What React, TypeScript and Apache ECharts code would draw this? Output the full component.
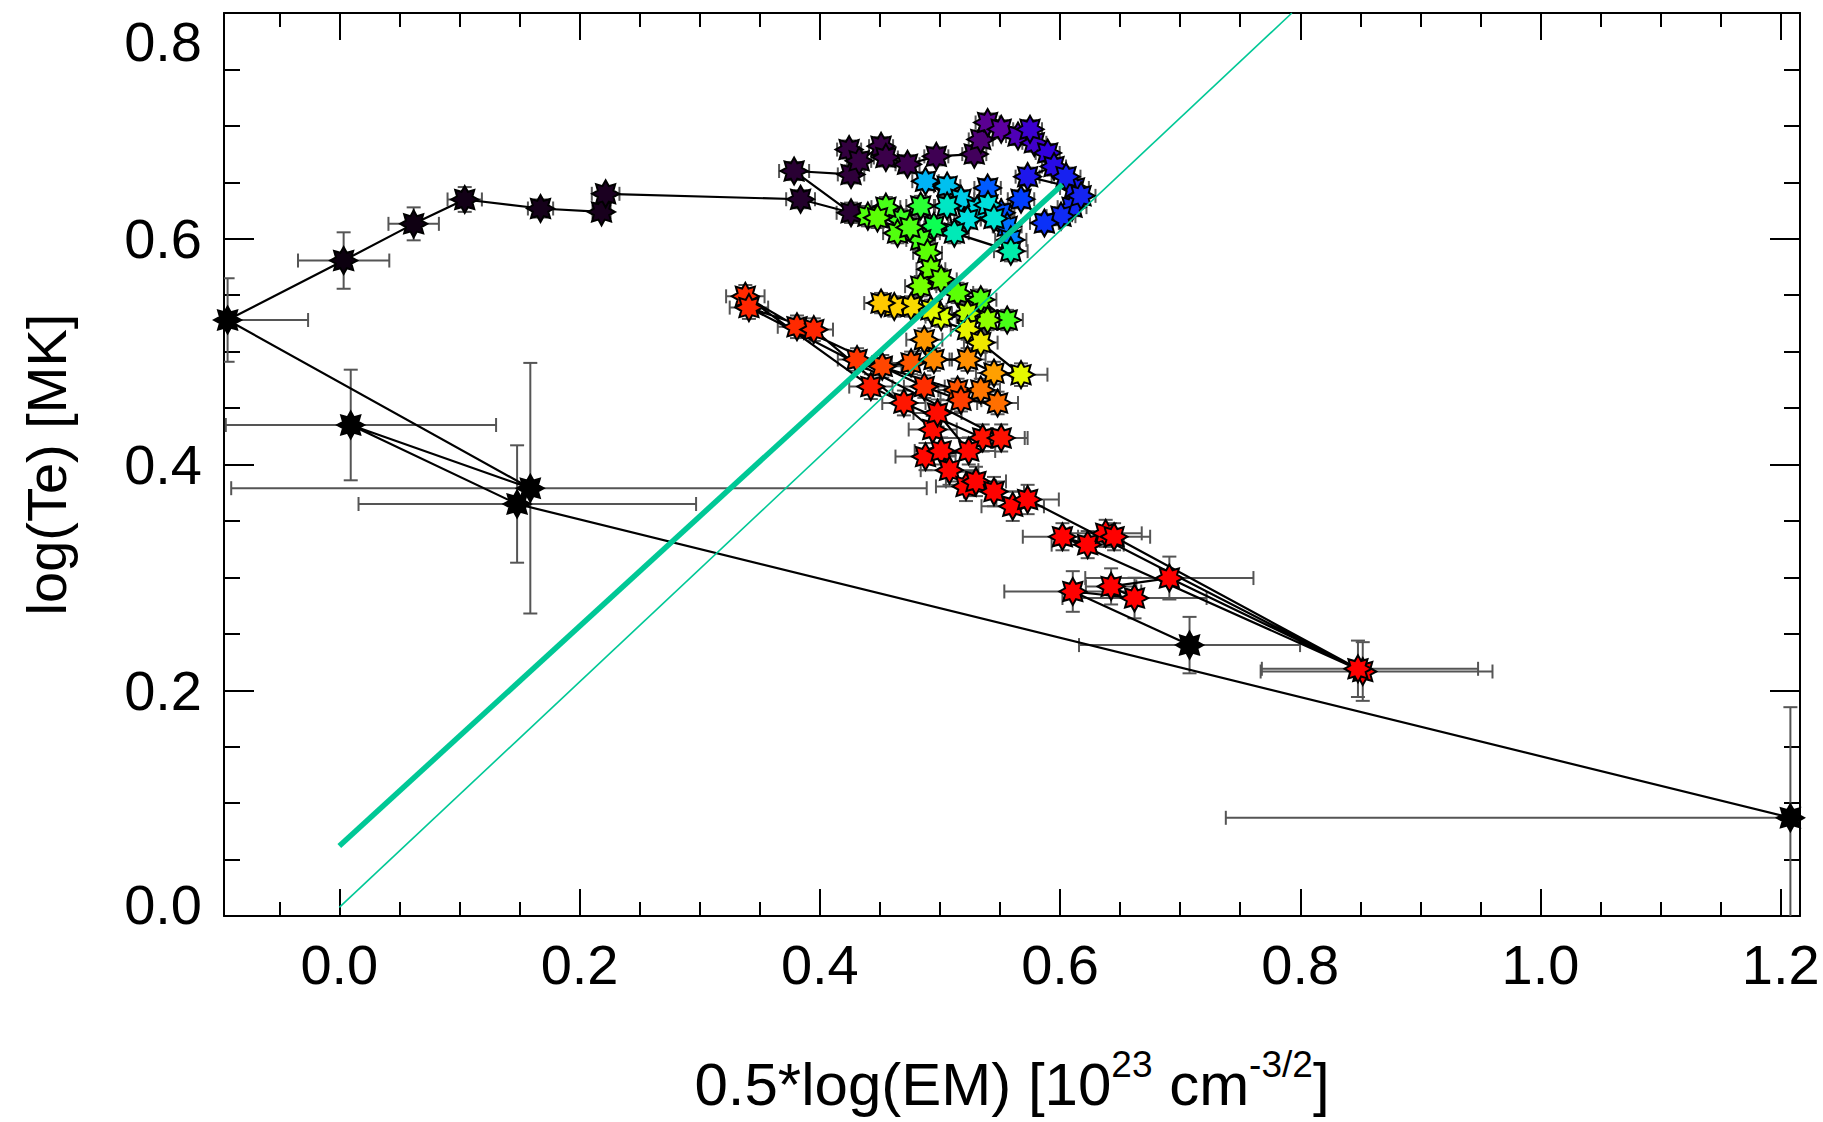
import React, { useEffect, useRef } from "react";
import * as echarts from "echarts";

// ---------------- data (time ordered trajectory) ----------------
const xs = [
  1.208, 0.148, 0.0095, 0.159, -0.093, 0.0036, 0.0619, 0.1044, 0.1675, 0.2183,
  0.2217, 0.384, 0.426, 0.3786, 0.426, 0.4244, 0.4328, 0.451, 0.455, 0.473,
  0.497, 0.5286, 0.534, 0.5397, 0.551, 0.565, 0.5786, 0.575, 0.5897, 0.595,
  0.573, 0.612, 0.605, 0.61, 0.6175, 0.6008, 0.587, 0.5675, 0.551, 0.5397,
  0.556, 0.559, 0.488, 0.506, 0.5175, 0.531, 0.523, 0.54, 0.545, 0.506,
  0.512, 0.559, 0.495, 0.484, 0.4675, 0.455, 0.44, 0.448, 0.4647, 0.484,
  0.475, 0.4897, 0.4925, 0.484, 0.501, 0.5147, 0.534, 0.556, 0.5397, 0.523,
  0.501, 0.4925, 0.476, 0.462, 0.451, 0.523, 0.534, 0.5675, 0.545, 0.523,
  0.495, 0.487, 0.476, 0.452, 0.431, 0.5147, 0.534, 0.548, 0.5175, 0.487,
  0.381, 0.338, 0.4425, 0.47, 0.5356, 0.551, 0.341, 0.395, 0.494, 0.498,
  0.524, 0.488, 0.501, 0.508, 0.5217, 0.53, 0.545, 0.5606, 0.573, 0.852,
  0.602, 0.623, 0.638, 0.645, 0.848, 0.691, 0.6425, 0.662, 0.6106, 0.7078,
];
const ys = [
  0.087, 0.365, 0.435, 0.379, 0.528, 0.5807, 0.6132, 0.6348, 0.6268, 0.6238,
  0.6398, 0.635, 0.623, 0.66, 0.657, 0.679, 0.669, 0.682, 0.672, 0.666,
  0.673, 0.675, 0.688, 0.703, 0.697, 0.691, 0.685, 0.697, 0.676, 0.664,
  0.655, 0.645, 0.655, 0.628, 0.638, 0.62, 0.614, 0.635, 0.623, 0.645,
  0.611, 0.599, 0.651, 0.6466, 0.635, 0.626, 0.617, 0.63, 0.618, 0.629,
  0.605, 0.589, 0.611, 0.629, 0.617, 0.628, 0.62, 0.6185, 0.605, 0.599,
  0.61, 0.5875, 0.573, 0.558, 0.564, 0.552, 0.546, 0.528, 0.528, 0.534,
  0.531, 0.537, 0.54, 0.54, 0.543, 0.5195, 0.508, 0.4796, 0.481, 0.493,
  0.493, 0.5106, 0.49, 0.487, 0.493, 0.466, 0.466, 0.4545, 0.457, 0.469,
  0.522, 0.549, 0.469, 0.4545, 0.4235, 0.4235, 0.539, 0.5195, 0.431, 0.4456,
  0.412, 0.407, 0.412, 0.395, 0.3806, 0.385, 0.376, 0.363, 0.369, 0.2166,
  0.336, 0.329, 0.339, 0.336, 0.219, 0.2994, 0.292, 0.2817, 0.2875, 0.24,
];
const xErrLo = [
  0.47, 0.132, 0.104, 0.249, 0.07, 0.038, 0.021, 0.0143, 0.0105, 0.0075,
  0.0115, 0.012, 0.012, 0.0125, 0.011, 0.01, 0.01, 0.01, 0.01, 0.01,
  0.01, 0.01, 0.01, 0.01, 0.01, 0.01, 0.01, 0.01, 0.01, 0.01,
  0.01, 0.012, 0.012, 0.012, 0.012, 0.012, 0.012, 0.011, 0.011, 0.011,
  0.012, 0.013, 0.011, 0.011, 0.011, 0.011, 0.011, 0.011, 0.011, 0.011,
  0.012, 0.014, 0.012, 0.012, 0.012, 0.012, 0.012, 0.012, 0.012, 0.012,
  0.012, 0.012, 0.012, 0.013, 0.013, 0.013, 0.013, 0.013, 0.013, 0.013,
  0.013, 0.013, 0.014, 0.014, 0.014, 0.014, 0.014, 0.022, 0.015, 0.015,
  0.015, 0.015, 0.016, 0.016, 0.016, 0.016, 0.016, 0.017, 0.017, 0.017,
  0.016, 0.016, 0.018, 0.018, 0.035, 0.022, 0.016, 0.016, 0.02, 0.02,
  0.022, 0.025, 0.022, 0.024, 0.025, 0.025, 0.025, 0.026, 0.026, 0.085,
  0.033, 0.03, 0.03, 0.03, 0.08, 0.07, 0.021, 0.06, 0.057, 0.092,
];
const xErrHi = [
  0.05, 0.149, 0.121, 0.33, 0.067, 0.038, 0.021, 0.0143, 0.0105, 0.0075,
  0.0115, 0.012, 0.012, 0.0125, 0.011, 0.01, 0.01, 0.01, 0.01, 0.01,
  0.01, 0.01, 0.01, 0.01, 0.01, 0.01, 0.01, 0.01, 0.01, 0.01,
  0.01, 0.012, 0.012, 0.012, 0.012, 0.012, 0.012, 0.011, 0.011, 0.011,
  0.012, 0.013, 0.011, 0.011, 0.011, 0.011, 0.011, 0.011, 0.011, 0.011,
  0.012, 0.014, 0.012, 0.012, 0.012, 0.012, 0.012, 0.012, 0.012, 0.012,
  0.012, 0.012, 0.012, 0.013, 0.013, 0.013, 0.013, 0.013, 0.013, 0.013,
  0.013, 0.013, 0.014, 0.014, 0.014, 0.014, 0.014, 0.022, 0.015, 0.015,
  0.015, 0.015, 0.016, 0.016, 0.016, 0.016, 0.016, 0.017, 0.017, 0.017,
  0.016, 0.016, 0.018, 0.018, 0.035, 0.022, 0.016, 0.016, 0.02, 0.02,
  0.022, 0.025, 0.022, 0.024, 0.025, 0.025, 0.025, 0.026, 0.026, 0.108,
  0.033, 0.03, 0.03, 0.03, 0.1, 0.07, 0.021, 0.06, 0.057, 0.092,
];
const yErr = [
  0.098, 0.052, 0.049, 0.111, 0.037, 0.025, 0.0146, 0.011, 0.008, 0.007,
  0.007, 0.008, 0.009, 0.008, 0.008, 0.008, 0.008, 0.008, 0.008, 0.008,
  0.008, 0.008, 0.008, 0.008, 0.008, 0.008, 0.008, 0.008, 0.008, 0.008,
  0.008, 0.008, 0.008, 0.008, 0.008, 0.008, 0.008, 0.008, 0.008, 0.008,
  0.009, 0.009, 0.008, 0.008, 0.008, 0.008, 0.008, 0.008, 0.008, 0.008,
  0.009, 0.009, 0.009, 0.009, 0.009, 0.009, 0.009, 0.009, 0.009, 0.009,
  0.009, 0.009, 0.009, 0.009, 0.009, 0.009, 0.009, 0.009, 0.009, 0.009,
  0.009, 0.009, 0.009, 0.009, 0.009, 0.009, 0.009, 0.01, 0.01, 0.01,
  0.01, 0.01, 0.01, 0.01, 0.01, 0.01, 0.01, 0.01, 0.01, 0.01,
  0.01, 0.01, 0.011, 0.011, 0.012, 0.012, 0.01, 0.01, 0.012, 0.012,
  0.012, 0.012, 0.012, 0.013, 0.013, 0.013, 0.013, 0.013, 0.013, 0.026,
  0.012, 0.012, 0.012, 0.012, 0.025, 0.019, 0.016, 0.018, 0.018, 0.025,
];
// colour-table index (0 = black ... 255 = red), rainbow table
const colorIndex = [
  0, 0, 0, 0, 0, 4, 5, 6, 7, 8,
  9, 12, 14, 14, 16, 17, 18, 19, 20, 21,
  22, 24, 30, 36, 40, 46, 52, 54, 58, 62,
  66, 68, 69, 71, 70, 72, 74, 78, 82, 84,
  88, 92, 104, 108, 112, 116, 118, 118, 120, 122,
  124, 126, 140, 146, 150, 152, 154, 156, 154, 152,
  153, 156, 158, 160, 158, 156, 154, 152, 164, 170,
  176, 180, 192, 196, 198, 182, 186, 180, 208, 212,
  214, 210, 226, 230, 234, 226, 218, 220, 232, 236,
  238, 238, 244, 246, 248, 248, 240, 240, 250, 250,
  252, 252, 252, 253, 253, 254, 254, 254, 255, 255,
  255, 255, 255, 255, 255, 255, 255, 255, 255, 0,
];

// straight reference lines
const thickLineX = [0.0, 0.602];
const thickLineY = [0.062, 0.648];
const thinLineX = [0.0, 0.793];
const thinLineY = [0.0076, 0.8];

const X_MIN = -0.096;
const X_MAX = 1.216;
const Y_MIN = 0;
const Y_MAX = 0.8;

const RAINBOW = [
  "#000000", "#3a0048", "#6000a0", "#3000e0", "#0040ff", "#00a0ff", "#00e0e0",
  "#00ff60", "#60ff00", "#e0ff00", "#ffd000", "#ff8000", "#ff3000", "#ff0000",
];

const STAR =
  "path://M100 50 L78.64 61.86 L85.36 85.36 L61.86 78.64 L50 100 L38.14 78.64 L14.64 85.36 L21.36 61.86 L0 50 L21.36 38.14 L14.64 14.64 L38.14 21.36 L50 0 L61.86 21.36 L85.36 14.64 L78.64 38.14 Z";

const FONT = "'Liberation Sans', Arial, Helvetica, sans-serif";
const FS = 56;

function buildOption() {
  const errData = xs.map((x, i) => [x, ys[i], xErrLo[i], xErrHi[i], yErr[i]]);
  const pathData = xs.map((x, i) => [x, ys[i]]);
  const ptData = xs.map((x, i) => [x, ys[i], colorIndex[i]]);

  const tickStyle = { color: "#000", width: 2 };
  const baseX = {
    type: "value",
    min: X_MIN,
    max: X_MAX,
    splitNumber: 6,
    minInterval: 0.2,
    maxInterval: 0.2,
    splitLine: { show: false },
    axisLine: { show: true, onZero: false, lineStyle: tickStyle },
    axisTick: { show: true, inside: true, length: 27, lineStyle: tickStyle },
    minorTick: { show: true, splitNumber: 4, length: 14, lineStyle: tickStyle },
  };
  const baseY = {
    type: "value",
    min: Y_MIN,
    max: Y_MAX,
    interval: 0.2,
    splitLine: { show: false },
    axisLine: { show: true, onZero: false, lineStyle: tickStyle },
    axisTick: { show: true, inside: true, length: 30, lineStyle: tickStyle },
    minorTick: { show: true, splitNumber: 4, length: 16, lineStyle: tickStyle },
  };

  return {
    animation: false,
    backgroundColor: "#ffffff",
    grid: { left: 224, right: 23, top: 13, bottom: 206, containLabel: false },
    visualMap: {
      type: "continuous",
      show: false,
      seriesIndex: 2,
      dimension: 2,
      min: 0,
      max: 255,
      inRange: { color: RAINBOW },
    },
    xAxis: [
      {
        ...baseX,
        position: "bottom",
        axisLabel: {
          show: true,
          margin: 20,
          color: "#000",
          fontSize: FS,
          fontFamily: FONT,
          showMinLabel: false,
          showMaxLabel: false,
          formatter: (v: number) => v.toFixed(1),
        },
        name: "{a|0.5*log(EM) [10}{s|23}{a| cm}{s|-3/2}{a|]}",
        nameLocation: "middle",
        nameGap: 130,
        nameTextStyle: {
          rich: {
            a: { fontSize: 60, fontFamily: FONT, color: "#000", lineHeight: 76 },
            s: { fontSize: 37, fontFamily: FONT, color: "#000", lineHeight: 37, verticalAlign: "top" },
          },
        },
      },
      {
        ...baseX,
        position: "top",
        axisLabel: { show: false },
      },
    ],
    yAxis: [
      {
        ...baseY,
        position: "left",
        axisLabel: {
          show: true,
          margin: 22,
          color: "#000",
          fontSize: FS,
          fontFamily: FONT,
          formatter: (v: number) =>
            Math.abs(v - Y_MIN) < 1e-9
              ? "{lo|" + v.toFixed(1) + "}"
              : Math.abs(v - Y_MAX) < 1e-9
              ? "{hi|" + v.toFixed(1) + "}"
              : v.toFixed(1),
          rich: {
            lo: { fontSize: FS, fontFamily: FONT, color: "#000", padding: [0, 0, 24, 0] },
            hi: { fontSize: FS, fontFamily: FONT, color: "#000", padding: [56, 0, 0, 0] },
          },
        },
        name: "log(Te) [MK]",
        nameLocation: "middle",
        nameGap: 150,
        nameTextStyle: { fontSize: FS, fontFamily: FONT, color: "#000" },
      },
      {
        ...baseY,
        position: "right",
        axisLabel: { show: false },
      },
    ],
    series: [
      {
        type: "custom",
        name: "errors",
        xAxisIndex: 0,
        yAxisIndex: 0,
        clip: true,
        z: 1,
        encode: { x: 0, y: 1 },
        data: errData,
        renderItem: (params: any, api: any) => {
          const x = api.value(0);
          const y = api.value(1);
          const xl = api.value(2);
          const xh = api.value(3);
          const ye = api.value(4);
          const pL = api.coord([x - xl, y]);
          const pR = api.coord([x + xh, y]);
          const pB = api.coord([x, y - ye]);
          const pT = api.coord([x, y + ye]);
          const c = 7;
          const style = { stroke: "#555555", lineWidth: 2 };
          return {
            type: "group",
            children: [
              { type: "line", shape: { x1: pL[0], y1: pL[1], x2: pR[0], y2: pR[1] }, style },
              { type: "line", shape: { x1: pL[0], y1: pL[1] - c, x2: pL[0], y2: pL[1] + c }, style },
              { type: "line", shape: { x1: pR[0], y1: pR[1] - c, x2: pR[0], y2: pR[1] + c }, style },
              { type: "line", shape: { x1: pB[0], y1: pB[1], x2: pT[0], y2: pT[1] }, style },
              { type: "line", shape: { x1: pB[0] - c, y1: pB[1], x2: pB[0] + c, y2: pB[1] }, style },
              { type: "line", shape: { x1: pT[0] - c, y1: pT[1], x2: pT[0] + c, y2: pT[1] }, style },
            ],
          };
        },
      },
      {
        type: "line",
        name: "track",
        xAxisIndex: 0,
        yAxisIndex: 0,
        data: pathData,
        showSymbol: false,
        symbol: "none",
        z: 2,
        lineStyle: { color: "#000", width: 2.2 },
      },
      {
        type: "scatter",
        name: "points",
        xAxisIndex: 0,
        yAxisIndex: 0,
        data: ptData,
        symbol: STAR,
        symbolSize: 27,
        z: 3,
        itemStyle: { borderColor: "#000", borderWidth: 2, opacity: 1 },
      },
      {
        type: "line",
        name: "thick",
        xAxisIndex: 0,
        yAxisIndex: 0,
        data: thickLineX.map((x, i) => [x, thickLineY[i]]),
        showSymbol: false,
        symbol: "none",
        z: 5,
        lineStyle: { color: "#00c896", width: 5.5 },
      },
      {
        type: "line",
        name: "thin",
        xAxisIndex: 0,
        yAxisIndex: 0,
        data: thinLineX.map((x, i) => [x, thinLineY[i]]),
        showSymbol: false,
        symbol: "none",
        z: 5,
        lineStyle: { color: "#00c896", width: 1.6 },
      },
    ],
  };
}

export default function App() {
  const ref = useRef<HTMLDivElement>(null);
  useEffect(() => {
    if (!ref.current) return;
    const chart = echarts.init(ref.current, null, { renderer: "svg" });
    chart.setOption(buildOption() as any);
    return () => chart.dispose();
  }, []);
  return (
    <div
      ref={ref}
      style={{ position: "absolute", left: 0, top: 0, width: 1823, height: 1122, background: "#fff" }}
    />
  );
}
